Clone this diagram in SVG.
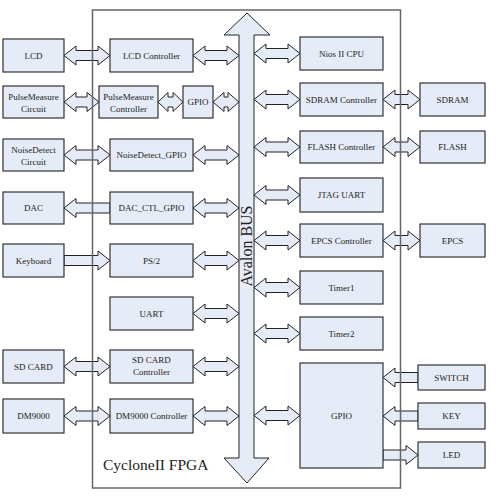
<svg xmlns="http://www.w3.org/2000/svg" width="500" height="500" viewBox="0 0 500 500">
<style>
.b{fill:#e6ecf7;stroke:#333;stroke-width:1.2}
.a{fill:#e6ecf7;stroke:#222;stroke-width:1}
.t{font-family:"Liberation Serif","Times New Roman",serif;font-size:9px;fill:#222;text-anchor:middle}
.frame{fill:none;stroke:#666;stroke-width:1.5}
</style>
<rect width="500" height="500" fill="#fff"/>
<g id="connectors">
<path class="a" transform="translate(0,55.5)" d="M64 0L76 -9.5L76 -5L98 -5L98 -9.5L110 0L98 9.5L98 5L76 5L76 9.5Z"/>
<path class="a" transform="translate(0,55.5)" d="M193 0L205 -9.5L205 -5L227 -5L227 -9.5L239 0L227 9.5L227 5L205 5L205 9.5Z"/>
<path class="a" transform="translate(0,102)" d="M64 0L76 -9.5L76 -5L87 -5L87 -9.5L99 0L87 9.5L87 5L76 5L76 9.5Z"/>
<path class="a" transform="translate(0,102)" d="M158 0L168 -9.5L168 -5L173 -5L173 -9.5L183 0L173 9.5L173 5L168 5L168 9.5Z"/>
<path class="a" transform="translate(0,102)" d="M213 0L224 -9.5L224 -5L228 -5L228 -9.5L239 0L228 9.5L228 5L224 5L224 9.5Z"/>
<path class="a" transform="translate(0,155)" d="M64 0L76 -9.5L76 -5L98 -5L98 -9.5L110 0L98 9.5L98 5L76 5L76 9.5Z"/>
<path class="a" transform="translate(0,155)" d="M193 0L205 -9.5L205 -5L227 -5L227 -9.5L239 0L227 9.5L227 5L205 5L205 9.5Z"/>
<path class="a" transform="translate(0,208)" d="M64 0L76 -9.5L76 -5L110 -5L110 5L76 5L76 9.5Z"/>
<path class="a" transform="translate(0,208)" d="M193 0L205 -9.5L205 -5L227 -5L227 -9.5L239 0L227 9.5L227 5L205 5L205 9.5Z"/>
<path class="a" transform="translate(0,260.5)" d="M110 0L98 -9.5L98 -5L64 -5L64 5L98 5L98 9.5Z"/>
<path class="a" transform="translate(0,260.5)" d="M193 0L205 -9.5L205 -5L227 -5L227 -9.5L239 0L227 9.5L227 5L205 5L205 9.5Z"/>
<path class="a" transform="translate(0,313.5)" d="M193 0L205 -9.5L205 -5L227 -5L227 -9.5L239 0L227 9.5L227 5L205 5L205 9.5Z"/>
<path class="a" transform="translate(0,366.5)" d="M64 0L76 -9.5L76 -5L98 -5L98 -9.5L110 0L98 9.5L98 5L76 5L76 9.5Z"/>
<path class="a" transform="translate(0,366.5)" d="M193 0L205 -9.5L205 -5L227 -5L227 -9.5L239 0L227 9.5L227 5L205 5L205 9.5Z"/>
<path class="a" transform="translate(0,416)" d="M64 0L76 -9.5L76 -5L98 -5L98 -9.5L110 0L98 9.5L98 5L76 5L76 9.5Z"/>
<path class="a" transform="translate(0,416)" d="M193 0L205 -9.5L205 -5L227 -5L227 -9.5L239 0L227 9.5L227 5L205 5L205 9.5Z"/>
<path class="a" transform="translate(0,53.5)" d="M254 0L266 -9.5L266 -5L288 -5L288 -9.5L300 0L288 9.5L288 5L266 5L266 9.5Z"/>
<path class="a" transform="translate(0,99.5)" d="M254 0L266 -9.5L266 -5L288 -5L288 -9.5L300 0L288 9.5L288 5L266 5L266 9.5Z"/>
<path class="a" transform="translate(0,99.5)" d="M383 0L395 -9.5L395 -5L408 -5L408 -9.5L420 0L408 9.5L408 5L395 5L395 9.5Z"/>
<path class="a" transform="translate(0,147)" d="M254 0L266 -9.5L266 -5L288 -5L288 -9.5L300 0L288 9.5L288 5L266 5L266 9.5Z"/>
<path class="a" transform="translate(0,147)" d="M383 0L395 -9.5L395 -5L408 -5L408 -9.5L420 0L408 9.5L408 5L395 5L395 9.5Z"/>
<path class="a" transform="translate(0,195)" d="M254 0L266 -9.5L266 -5L288 -5L288 -9.5L300 0L288 9.5L288 5L266 5L266 9.5Z"/>
<path class="a" transform="translate(0,240.5)" d="M254 0L266 -9.5L266 -5L288 -5L288 -9.5L300 0L288 9.5L288 5L266 5L266 9.5Z"/>
<path class="a" transform="translate(0,240.5)" d="M383 0L395 -9.5L395 -5L408 -5L408 -9.5L420 0L408 9.5L408 5L395 5L395 9.5Z"/>
<path class="a" transform="translate(0,287.5)" d="M254 0L266 -9.5L266 -5L288 -5L288 -9.5L300 0L288 9.5L288 5L266 5L266 9.5Z"/>
<path class="a" transform="translate(0,333.5)" d="M254 0L266 -9.5L266 -5L288 -5L288 -9.5L300 0L288 9.5L288 5L266 5L266 9.5Z"/>
<path class="a" transform="translate(0,415.5)" d="M254 0L266 -9.5L266 -5L288 -5L288 -9.5L300 0L288 9.5L288 5L266 5L266 9.5Z"/>
<path class="a" transform="translate(0,377.5)" d="M383 0L395 -9.5L395 -5L418 -5L418 5L395 5L395 9.5Z"/>
<path class="a" transform="translate(0,416)" d="M383 0L395 -9.5L395 -5L418 -5L418 5L395 5L395 9.5Z"/>
<path class="a" transform="translate(0,455)" d="M418 0L406 -9.5L406 -5L383 -5L383 5L406 5L406 9.5Z"/>
</g>
<g id="fpga">
<rect class="frame" x="92.5" y="10" width="308" height="478"/>
<text x="103" y="470" font-family="Liberation Serif, serif" font-size="15.5" fill="#222">CycloneII FPGA</text>
</g>
<g id="avalon-bus">
<path class="a" d="M247 13L270 35L254 35L254 458L269 458L247 483L224 458L239 458L239 35L224 35Z"/>
<text transform="translate(252,246) rotate(-90)" font-family="Liberation Serif, serif" font-size="16" fill="#222" text-anchor="middle">Avalon BUS</text>
</g>
<g id="lcd"><rect class="b" x="3" y="39" width="61" height="33"/><text class="t" x="33.5" y="58.5">LCD</text></g>
<g id="pulse-circuit"><rect class="b" x="3" y="86" width="61" height="32"/><text class="t" x="33.5" y="99.5">PulseMeasure</text><text class="t" x="33.5" y="111.5">Circuit</text></g>
<g id="noise-circuit"><rect class="b" x="3" y="139" width="61" height="32"/><text class="t" x="33.5" y="152.5">NoiseDetect</text><text class="t" x="33.5" y="164.5">Circuit</text></g>
<g id="dac"><rect class="b" x="3" y="192" width="61" height="32"/><text class="t" x="33.5" y="211">DAC</text></g>
<g id="keyboard"><rect class="b" x="3" y="244" width="61" height="33"/><text class="t" x="33.5" y="263.5">Keyboard</text></g>
<g id="sdcard"><rect class="b" x="3" y="350" width="61" height="33"/><text class="t" x="33.5" y="369.5">SD CARD</text></g>
<g id="dm9000"><rect class="b" x="3" y="399" width="61" height="34"/><text class="t" x="33.5" y="419">DM9000</text></g>
<g id="lcd-ctrl"><rect class="b" x="110" y="39" width="83" height="33"/><text class="t" x="151.5" y="58.5">LCD Controller</text></g>
<g id="pulse-ctrl"><rect class="b" x="99" y="86" width="59" height="32"/><text class="t" x="128.5" y="99.5">PulseMeasure</text><text class="t" x="128.5" y="111.5">Controller</text></g>
<g id="gpio-small"><rect class="b" x="183" y="86" width="30" height="32"/><text class="t" x="198" y="105">GPIO</text></g>
<g id="noise-gpio"><rect class="b" x="110" y="139" width="83" height="32"/><text class="t" x="151.5" y="158">NoiseDetect_GPIO</text></g>
<g id="dac-ctl"><rect class="b" x="110" y="192" width="83" height="32"/><text class="t" x="151.5" y="211">DAC_CTL_GPIO</text></g>
<g id="ps2"><rect class="b" x="110" y="244" width="83" height="33"/><text class="t" x="151.5" y="263.5">PS/2</text></g>
<g id="uart"><rect class="b" x="110" y="297" width="83" height="33"/><text class="t" x="151.5" y="316.5">UART</text></g>
<g id="sd-ctrl"><rect class="b" x="110" y="350" width="83" height="33"/><text class="t" x="151.5" y="363">SD CARD</text><text class="t" x="151.5" y="375">Controller</text></g>
<g id="dm-ctrl"><rect class="b" x="110" y="399" width="83" height="34"/><text class="t" x="151.5" y="419">DM9000 Controller</text></g>
<g id="nios"><rect class="b" x="300" y="37" width="83" height="33"/><text class="t" x="341.5" y="56.5">Nios II CPU</text></g>
<g id="sdram-ctrl"><rect class="b" x="300" y="83" width="83" height="33"/><text class="t" x="341.5" y="102.5">SDRAM Controller</text></g>
<g id="flash-ctrl"><rect class="b" x="300" y="131" width="83" height="32"/><text class="t" x="341.5" y="150">FLASH Controller</text></g>
<g id="jtag"><rect class="b" x="300" y="178" width="83" height="34"/><text class="t" x="341.5" y="198">JTAG UART</text></g>
<g id="epcs-ctrl"><rect class="b" x="300" y="224" width="83" height="33"/><text class="t" x="341.5" y="243.5">EPCS Controller</text></g>
<g id="timer1"><rect class="b" x="300" y="271" width="83" height="33"/><text class="t" x="341.5" y="290.5">Timer1</text></g>
<g id="timer2"><rect class="b" x="300" y="317" width="83" height="33"/><text class="t" x="341.5" y="336.5">Timer2</text></g>
<g id="gpio"><rect class="b" x="300" y="363" width="83" height="105"/><text class="t" x="341.5" y="418.5">GPIO</text></g>
<g id="sdram"><rect class="b" x="420" y="83" width="65" height="33"/><text class="t" x="452.5" y="102.5">SDRAM</text></g>
<g id="flash"><rect class="b" x="420" y="131" width="65" height="32"/><text class="t" x="452.5" y="150">FLASH</text></g>
<g id="epcs"><rect class="b" x="420" y="224" width="65" height="33"/><text class="t" x="452.5" y="243.5">EPCS</text></g>
<g id="switch"><rect class="b" x="418" y="365" width="67" height="25"/><text class="t" x="451.5" y="380.5">SWITCH</text></g>
<g id="key"><rect class="b" x="418" y="403" width="67" height="26"/><text class="t" x="451.5" y="419">KEY</text></g>
<g id="led"><rect class="b" x="418" y="442" width="67" height="26"/><text class="t" x="451.5" y="458">LED</text></g>
</svg>
